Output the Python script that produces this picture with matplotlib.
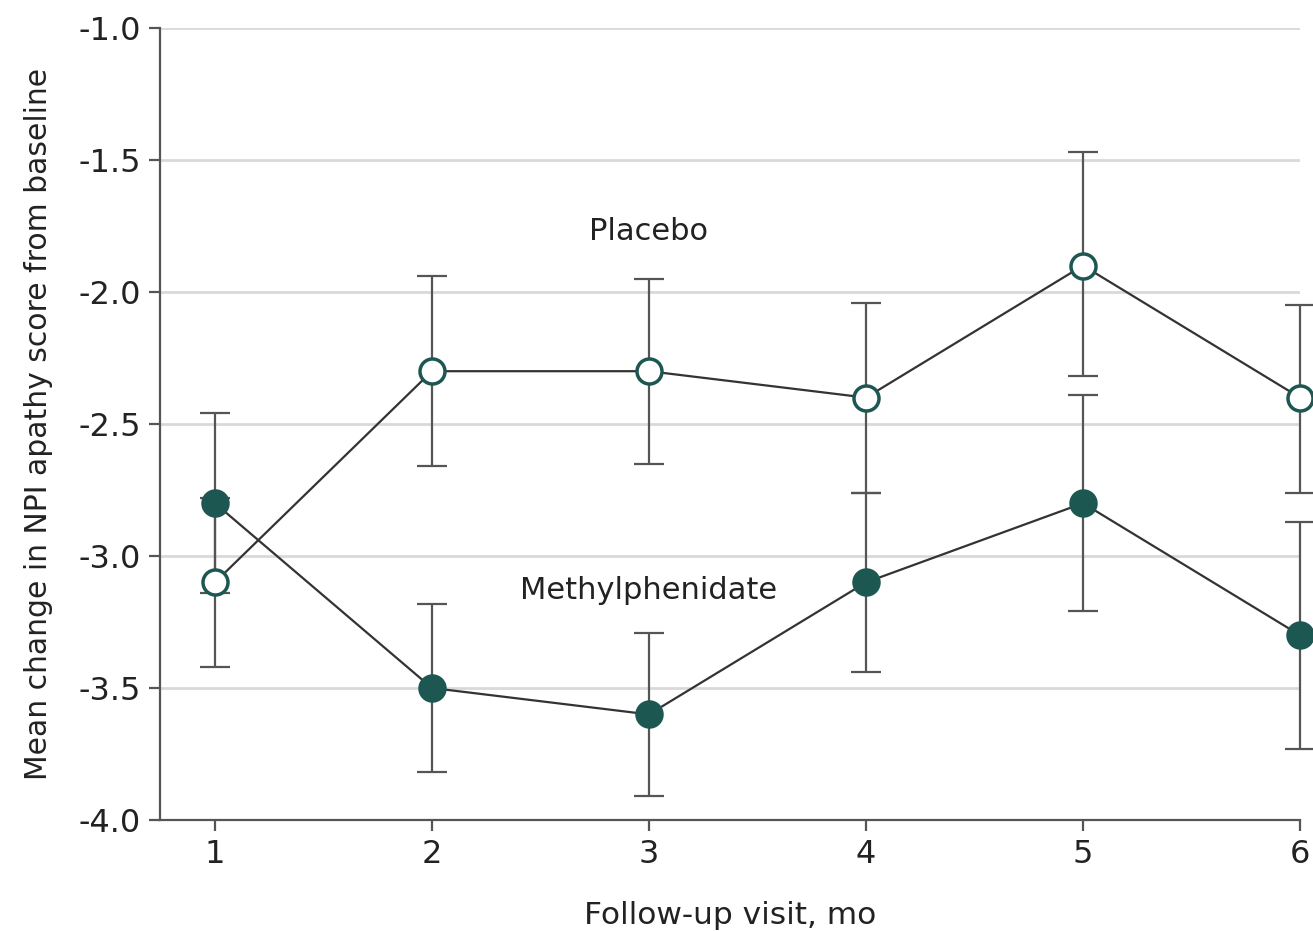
import numpy as np
import matplotlib.pyplot as plt

plt.rcParams['font.family'] = ['DejaVu Sans']

# --- data ---
visits = [1, 2, 3, 4, 5, 6]

placebo = [-3.10, -2.30, -2.30, -2.40, -1.90, -2.40]
placebo_hi = [-2.78, -1.94, -1.95, -2.04, -1.47, -2.05]
placebo_lo = [-3.42, -2.66, -2.65, -2.76, -2.32, -2.76]

methyl = [-2.80, -3.50, -3.60, -3.10, -2.80, -3.30]
methyl_hi = [-2.46, -3.18, -3.29, -2.76, -2.39, -2.87]
methyl_lo = [-3.14, -3.82, -3.91, -3.44, -3.21, -3.73]

y_ticks = [-4.0, -3.5, -3.0, -2.5, -2.0, -1.5, -1.0]

TEAL = '#1d5752'
LINE = '#333333'
BAR = '#555555'
GRID = '#d9d9d9'
TXT = '#222222'

fig = plt.figure(figsize=(13.13, 9.31), dpi=100)
ax = fig.add_axes([160 / 1313, 111 / 931, 1140 / 1313, 792 / 931])


def draw(y, hi, lo, face):
    y = np.array(y)
    yerr = [y - np.array(lo), np.array(hi) - y]
    ax.errorbar(visits, y, yerr=yerr, fmt='none', ecolor=BAR, elinewidth=1.6,
                capsize=11, capthick=1.6, zorder=2, clip_on=False)
    ax.plot(visits, y, color=LINE, lw=1.6, zorder=3, clip_on=False)
    ax.plot(visits, y, 'o', ms=18, mfc=face, mec=TEAL, mew=2.5, zorder=4,
            clip_on=False)


draw(placebo, placebo_hi, placebo_lo, 'white')
draw(methyl, methyl_hi, methyl_lo, TEAL)

ax.text(3.0, -1.77, 'Placebo', ha='center', va='center', fontsize=22, color=TXT)
ax.text(3.0, -3.13, 'Methylphenidate', ha='center', va='center', fontsize=22,
        color=TXT)

ax.set_xlim(0.747, 6.0)
ax.set_ylim(-4.0, -1.0)
ax.set_xticks(visits)
ax.set_yticks(y_ticks)
ax.set_yticklabels([f'{v:.1f}' for v in y_ticks])
ax.yaxis.grid(True, color=GRID, lw=2)
ax.set_axisbelow(True)

for s in ['top', 'right']:
    ax.spines[s].set_visible(False)
for s in ['left', 'bottom']:
    ax.spines[s].set_color(BAR)
    ax.spines[s].set_linewidth(1.6)
ax.tick_params(axis='both', direction='out', length=8, width=1.6, color=BAR,
               labelsize=23, labelcolor=TXT, pad=6)

ax.set_xlabel('Follow-up visit, mo', fontsize=22.5, color=TXT, labelpad=22)
ax.set_ylabel('Mean change in NPI apathy score from baseline', fontsize=21.5,
              color=TXT, labelpad=18)

fig.savefig('out.png', dpi=100)
